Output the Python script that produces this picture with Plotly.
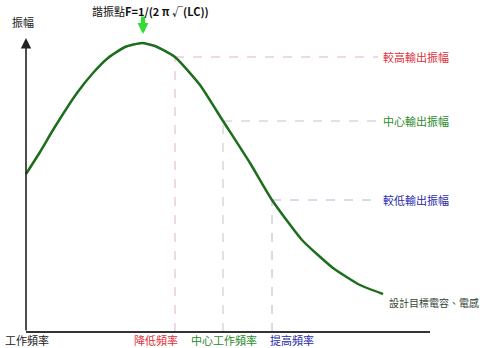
import plotly.graph_objects as go

# Curve: frequency (arbitrary units) vs amplitude (arbitrary units)
freq = [0, 14, 27, 51, 67, 82, 99, 116, 129, 149, 174, 197, 224, 246, 276, 307, 334, 357]
amp = [158, 180, 202, 239, 259, 274, 285, 289, 286, 275, 247, 211, 169, 132, 92, 64, 47, 38]

# Operating points
op_freq = [149, 197, 246]
op_amp = [275, 211, 132]
op_freq_labels = ["降低頻率", "中心工作頻率", "提高頻率"]
op_amp_labels = ["較高輸出振幅", "中心輸出振幅", "較低輸出振幅"]
op_colors = ["#e0303a", "#2a8a2a", "#2a2aaa"]
dash_colors = ["#dcb4c4", "#c4c4c8", "#b4b4d4"]

peak_freq = 116
peak_amp = 289
title_text = "諧振點<b>F=1/(2 π √(LC))</b>"
x_label = "工作頻率"
y_label = "振幅"
end_label = "設計目標電容、電感"

FONT = "Noto Sans CJK TC, Noto Sans CJK SC, sans-serif"
h_end = 352

fig = go.Figure()
fig.add_trace(go.Scatter(x=freq, y=amp, mode="lines",
                         line=dict(color="#1c6e1c", width=2.5, shape="spline", smoothing=0.5),
                         hoverinfo="skip", showlegend=False))

shapes = []
annotations = []
for i in range(3):
    shapes.append(dict(type="line", xref="x", yref="y", x0=op_freq[i], x1=op_freq[i],
                       y0=0, y1=op_amp[i], line=dict(color=dash_colors[i], width=1, dash="dash"), layer="below"))
    shapes.append(dict(type="line", xref="x", yref="y", x0=op_freq[i], x1=h_end,
                       y0=op_amp[i], y1=op_amp[i], line=dict(color=dash_colors[i], width=1, dash="dash"), layer="below"))
    annotations.append(dict(x=h_end + 3, y=op_amp[i], xref="x", yref="y", text=op_amp_labels[i],
                            showarrow=False, xanchor="left", yanchor="middle",
                            font=dict(family=FONT, size=11, color=op_colors[i])))

# frequency labels below axis
fl_anchor = ["right", "center", "left"]
fl_shift = [5, 1, -4]
for i in range(3):
    annotations.append(dict(x=op_freq[i], y=-8, xref="x", yref="y", text=op_freq_labels[i],
                            showarrow=False, xanchor=fl_anchor[i], yanchor="middle", xshift=fl_shift[i],
                            font=dict(family=FONT, size=11, color=op_colors[i])))

# axes
shapes.append(dict(type="line", xref="x", yref="y", x0=0, x1=404, y0=0, y1=0,
                   line=dict(color="#333333", width=2)))
annotations.append(dict(x=0, y=294, ax=0, ay=0, xref="x", yref="y", axref="x", ayref="y",
                        showarrow=True, arrowhead=2, arrowsize=1.3, arrowwidth=1.6,
                        arrowcolor="#222222", text=""))
annotations.append(dict(x=-3, y=310, xref="x", yref="y", text=y_label, showarrow=False,
                        xanchor="center", yanchor="middle", font=dict(family=FONT, size=11, color="#222")))
annotations.append(dict(x=-23, y=-8, xref="x", yref="y", text=x_label, showarrow=False,
                        xanchor="left", yanchor="middle", font=dict(family=FONT, size=11, color="#222")))
annotations.append(dict(x=361, y=30, xref="x", yref="y", text=end_label, showarrow=False,
                        xanchor="left", yanchor="middle", font=dict(family=FONT, size=10, color="#334433")))

# peak marker
annotations.append(dict(x=peak_freq + 1, y=peak_amp + 9, ax=peak_freq + 1, ay=peak_amp + 28,
                        xref="x", yref="y", axref="x", ayref="y",
                        showarrow=True, arrowhead=2, arrowsize=0.55, arrowwidth=4,
                        arrowcolor="#33dd33", text=""))
annotations.append(dict(x=peak_freq + 8, y=peak_amp + 32, xref="x", yref="y", text=title_text,
                        showarrow=False, xanchor="center", yanchor="middle",
                        font=dict(family=FONT, size=11, color="#111")))

fig.update_layout(
    width=493, height=348, margin=dict(l=0, r=0, t=0, b=0),
    paper_bgcolor="white", plot_bgcolor="white",
    xaxis=dict(range=[-26, 467], visible=False, fixedrange=True),
    yaxis=dict(range=[-16, 332], visible=False, fixedrange=True),
    shapes=shapes, annotations=annotations, showlegend=False,
)
fig.write_html("out.html")
